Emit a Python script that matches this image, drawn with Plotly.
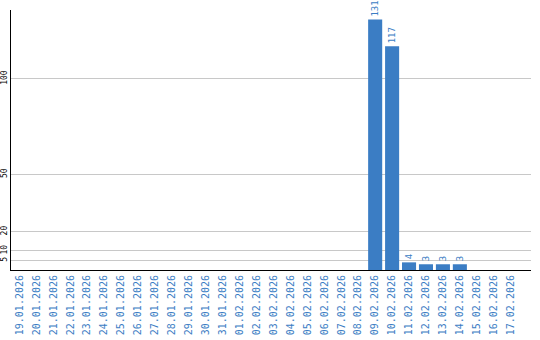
import plotly.graph_objects as go

dates = ["19.01.2026", "20.01.2026", "21.01.2026", "22.01.2026", "23.01.2026",
         "24.01.2026", "25.01.2026", "26.01.2026", "27.01.2026", "28.01.2026",
         "29.01.2026", "30.01.2026", "31.01.2026", "01.02.2026", "02.02.2026",
         "03.02.2026", "04.02.2026", "05.02.2026", "06.02.2026", "07.02.2026",
         "08.02.2026", "09.02.2026", "10.02.2026", "11.02.2026", "12.02.2026",
         "13.02.2026", "14.02.2026", "15.02.2026", "16.02.2026", "17.02.2026"]
values = [None] * 21 + [131, 117, 4, 3, 3, 3] + [None] * 3
ytick_vals = [5, 10, 20, 50, 100]

blue = "#3b7dc4"
mono = "DejaVu Sans Mono"

fig = go.Figure(go.Bar(
    x=list(range(len(dates))),
    y=values,
    marker=dict(color=blue, line=dict(width=0)),
    text=[("" if v is None else str(v)) for v in values],
    textposition="outside",
    textangle=-90,
    constraintext="none",
    textfont=dict(color=blue, family=mono, size=9),
    cliponaxis=False,
))

fig.update_layout(
    width=540, height=340,
    margin=dict(l=11, r=9, t=10, b=70),
    paper_bgcolor="white", plot_bgcolor="white",
    bargap=0.17,
    showlegend=False,
)
fig.update_xaxes(
    tickmode="array", tickvals=list(range(len(dates))), ticktext=dates,
    tickangle=-90, tickfont=dict(color=blue, family=mono, size=10),
    range=[-0.5, 30.2], showgrid=False, showline=True, linecolor="black",
    linewidth=1, ticks="", automargin=False, zeroline=False,
)
fig.update_yaxes(
    tickmode="array", tickvals=ytick_vals,
    tickangle=-90, tickfont=dict(color="black", family=mono, size=8),
    range=[0, 136], showgrid=True, gridcolor="#c8c8c8", gridwidth=1,
    showline=True, linecolor="black", linewidth=1, ticks="",
    automargin=False, zeroline=False,
)

fig.write_html("out.html")
